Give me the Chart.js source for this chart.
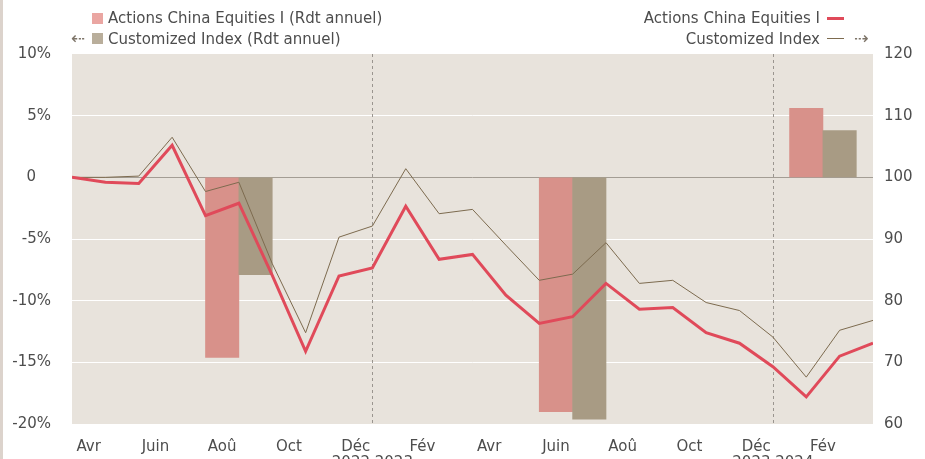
<!DOCTYPE html>
<html>
<head>
<meta charset="utf-8">
<script src="https://cdn.jsdelivr.net/npm/chart.js@4/dist/chart.umd.min.js"></script>
<style>
  html, body { margin: 0; padding: 0; background: #fff; }
  body { width: 925px; height: 459px; position: relative; overflow: hidden;
         font-family: "DejaVu Sans", Verdana, sans-serif; color: #4d4d4d; }
  .strip { position: absolute; left: 0; top: 0; width: 3px; height: 459px; background: #dcd3cc; }
  #wrap { position: absolute; left: 0; top: 0; width: 925px; height: 459px; }
  .leg { position: absolute; font-size: 15px; line-height: 18px; white-space: nowrap; }
  .sw { position: absolute; width: 11px; height: 11px; }
  .ln { position: absolute; width: 17px; }
  .arr { position: absolute; font-size: 17px; line-height: 18px; color: #7d7468; }
</style>
</head>
<body>
<div class="strip"></div>
<div id="wrap"><canvas id="myChart"></canvas></div>

<!-- left legend (bars, left axis) -->
<div class="sw" style="left:92px; top:13px; background:#eaa6a2;"></div>
<div class="leg" style="left:108px; top:9px;">Actions China Equities I (Rdt annuel)</div>
<div class="arr" style="left:71px; top:29px;">&#8672;</div>
<div class="sw" style="left:92px; top:33px; background:#b9ae9b;"></div>
<div class="leg" style="left:108px; top:30px;">Customized Index (Rdt annuel)</div>

<!-- right legend (lines, right axis) -->
<div class="leg" style="right:105px; top:9px;">Actions China Equities I</div>
<div class="ln" style="left:827px; top:17px; height:3px; background:#e04a5a;"></div>
<div class="leg" style="right:105px; top:30px;">Customized Index</div>
<div class="ln" style="left:827px; top:38px; height:1px; background:#7d6b4f;"></div>
<div class="arr" style="left:854px; top:29px;">&#8674;</div>

<script>
// month labels (every 2 months) and where they sit on the month index axis
const monthLabels = ['Avr', 'Juin', 'Aoû', 'Oct', 'Déc', 'Fév', 'Avr', 'Juin', 'Aoû', 'Oct', 'Déc', 'Fév'];
const monthTicks = [0.5, 2.5, 4.5, 6.5, 8.5, 10.5, 12.5, 14.5, 16.5, 18.5, 20.5, 22.5];

// monthly index values (base 100), right axis
const fundIndex = [100, 99.2, 99.0, 105.2, 93.8, 95.8, 84.1, 71.8, 84.0, 85.3,
                   95.3, 86.7, 87.5, 80.9, 76.3, 77.4, 82.8, 78.6, 78.9, 74.8,
                   73.1, 69.3, 64.4, 71.0, 73.1];
const benchIndex = [100, 100, 100.2, 106.5, 97.7, 99.2, 86.0, 74.8, 90.3, 92.1,
                    101.4, 94.1, 94.8, 89.0, 83.3, 84.3, 89.4, 82.8, 83.3, 79.7,
                    78.4, 74.1, 67.6, 75.2, 76.8];

// yearly returns (%), left axis, with their month positions
const fundYearPos = [4.5, 14.5, 22];
const benchYearPos = [5.5, 15.5, 23];
const fundYearly = [-14.6, -19.0, 5.6];
const benchYearly = [-7.9, -19.6, 3.8];

// year separators
const yearBreaks = [9, 21];
const yearLabels = ['2022 2023', '2023 2024'];

const textColor = '#4d4d4d';
const font = { family: '"DejaVu Sans", Verdana, sans-serif', size: 15 };

const plotBg = {
  id: 'plotBg',
  beforeDraw(chart) {
    const { ctx, chartArea: a } = chart;
    ctx.save();
    ctx.fillStyle = '#e8e3dc';
    ctx.fillRect(a.left, a.top, a.right - a.left, a.bottom - a.top);
    ctx.restore();
  },
  beforeDatasetsDraw(chart) {
    const { ctx, chartArea: a, scales } = chart;
    ctx.save();
    ctx.strokeStyle = '#9a958f';
    ctx.lineWidth = 1;
    ctx.setLineDash([3, 3]);
    yearBreaks.forEach(function (v) {
      const x = Math.round(scales.x.getPixelForValue(v)) + 0.5;
      ctx.beginPath();
      ctx.moveTo(x, a.top);
      ctx.lineTo(x, a.bottom);
      ctx.stroke();
    });
    ctx.restore();
  },
  afterDraw(chart) {
    const { ctx, scales } = chart;
    ctx.save();
    ctx.fillStyle = textColor;
    ctx.font = '15px "DejaVu Sans", Verdana, sans-serif';
    ctx.textAlign = 'center';
    ctx.textBaseline = 'top';
    yearBreaks.forEach(function (v, i) {
      ctx.fillText(yearLabels[i], scales.x.getPixelForValue(v), 456);
    });
    ctx.restore();
  }
};

const ctx = document.getElementById('myChart').getContext('2d');

new Chart(ctx, {
  type: 'line',
  data: {
    datasets: [
      {
        label: 'Actions China Equities I',
        data: fundIndex.map((v, i) => ({ x: i, y: v })),
        yAxisID: 'y1',
        borderColor: '#e04a5a',
        borderWidth: 3,
        pointRadius: 0,
        tension: 0,
        order: 0
      },
      {
        label: 'Customized Index',
        data: benchIndex.map((v, i) => ({ x: i, y: v })),
        yAxisID: 'y1',
        borderColor: '#7d6b4f',
        borderWidth: 1,
        pointRadius: 0,
        tension: 0,
        order: 1
      },
      {
        type: 'bar',
        label: 'Actions China Equities I (Rdt annuel)',
        data: fundYearly.map((v, i) => ({ x: fundYearPos[i], y: v })),
        yAxisID: 'y',
        backgroundColor: '#d8918a',
        grouped: false,
        barPercentage: 1,
        categoryPercentage: 1,
        order: 3
      },
      {
        type: 'bar',
        label: 'Customized Index (Rdt annuel)',
        data: benchYearly.map((v, i) => ({ x: benchYearPos[i], y: v })),
        yAxisID: 'y',
        backgroundColor: '#a89b84',
        grouped: false,
        barPercentage: 1,
        categoryPercentage: 1,
        order: 2
      }
    ]
  },
  options: {
    responsive: true,
    maintainAspectRatio: false,
    animation: false,
    layout: { padding: { top: 54, left: 0, right: 0, bottom: 0 } },
    plugins: {
      legend: { display: false },
      tooltip: { enabled: false }
    },
    scales: {
      x: {
        type: 'linear',
        min: 0,
        max: 24,
        offset: false,
        grid: { display: false },
        border: { display: false },
        afterBuildTicks: function (scale) {
          scale.ticks = monthTicks.map(v => ({ value: v }));
        },
        afterFit: function (scale) { scale.height = 35; },
        ticks: {
          autoSkip: false,
          maxRotation: 0,
          padding: 6,
          color: textColor,
          font: font,
          callback: function (value, index) { return monthLabels[index]; }
        }
      },
      y: {
        position: 'left',
        min: -20,
        max: 10,
        afterFit: function (scale) { scale.width = 72; },
        border: { display: false },
        grid: {
          drawTicks: false,
          color: function (c) {
            if (c.tick.value === 0) return '#a39d94';
            if (c.tick.value === 10 || c.tick.value === -20) return 'rgba(0,0,0,0)';
            return '#ffffff';
          },
          lineWidth: 1
        },
        ticks: {
          stepSize: 5,
          padding: 21,
          color: textColor,
          font: font,
          callback: function (value) { return value === 0 ? '0\u2003' : value + '%'; }
        }
      },
      y1: {
        position: 'right',
        min: 60,
        max: 120,
        afterFit: function (scale) { scale.width = 52; },
        border: { display: false },
        grid: { display: false, drawTicks: false },
        ticks: {
          stepSize: 10,
          padding: 11,
          color: textColor,
          font: font
        }
      }
    }
  },
  plugins: [plotBg]
});
</script>
</body>
</html>
